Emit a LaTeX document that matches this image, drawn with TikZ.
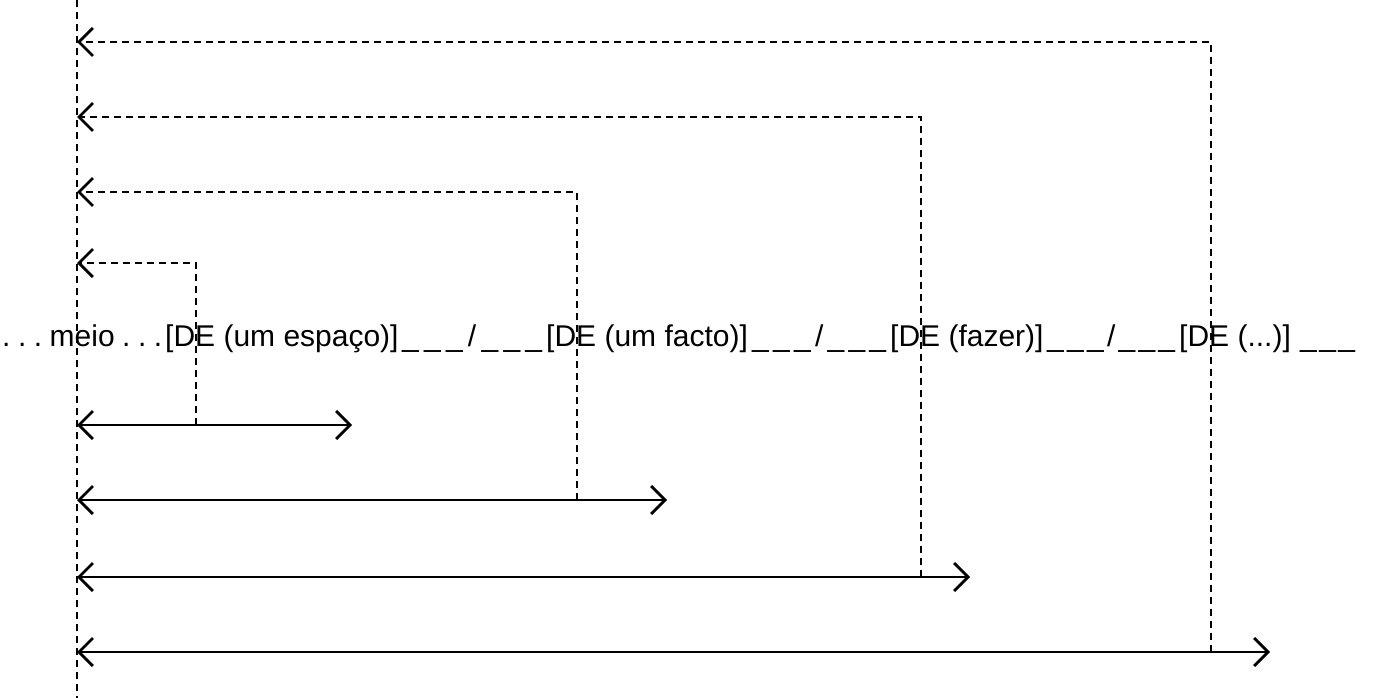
\documentclass[tikz,border=0pt]{standalone}
\usepackage{fontspec}
\setmainfont{Liberation Sans}
\usetikzlibrary{arrows.meta}
\newcommand{\sepfill}[1]{\hbox to #1{\_\hfill\_\hfill\_\hfill/\hfill\_\hfill\_\hfill\_}}
\begin{document}
\begin{tikzpicture}[x=1pt,y=-1pt,
  guide/.style={line width=2.4pt, dash pattern=on 7pt off 5pt},
  barb/.tip={Straight Barb[length=14pt,width=28pt,line width=2.8pt]},
  back/.style={guide, -barb},
  span/.style={line width=2pt, barb-barb},
  lbl/.style={font=\fontsize{30}{36}\selectfont, inner sep=0pt}]
\useasboundingbox (0,0) rectangle (1391,698);
% left vertical guide
\coordinate (gtop) at (77,0);
\coordinate (gbot) at (77,698);
\draw[guide] (gtop) -- (gbot);
% text line
\node[lbl, anchor=base west] (meio) at (2,346) {\hbox to 160pt{.\hfill.\hfill.\hfill meio\hfill.\hfill.\hfill.}};
\node[lbl, anchor=base west] (de1) at (165,346) {[DE (um espaço)]};
\node[lbl, anchor=base west] (s1) at (402,346) {\sepfill{140pt}};
\node[lbl, anchor=base west] (de2) at (546,346) {[DE (um facto)]};
\node[lbl, anchor=base west] (s2) at (752,346) {\sepfill{134pt}};
\node[lbl, anchor=base west] (de3) at (890,346) {[DE (fazer)]};
\node[lbl, anchor=base west] (s3) at (1047,346) {\sepfill{128pt}};
\node[lbl, anchor=base west] (de4) at (1179,346) {[DE (...)]};
\node[lbl, anchor=base west] (s4) at (1300,346) {\hbox to 55pt{\_\hfill\_\hfill\_}};
% arrow end points
\coordinate (t1) at (77,263);
\coordinate (t2) at (77,192);
\coordinate (t3) at (77,117);
\coordinate (t4) at (77,42);
\coordinate (v1) at (196,425);
\coordinate (v2) at (577,500);
\coordinate (v3) at (921,577);
\coordinate (v4) at (1211,652);
\coordinate (l1) at (77,425);
\coordinate (l2) at (77,500);
\coordinate (l3) at (77,577);
\coordinate (l4) at (77,652);
\coordinate (r1) at (352,425);
\coordinate (r2) at (667,500);
\coordinate (r3) at (970,577);
\coordinate (r4) at (1270,652);
% dashed return arrows
\draw[back] (v1) |- (t1);
\draw[back] (v2) |- (t2);
\draw[back] (v3) |- (t3);
\draw[back] (v4) |- (t4);
% solid span arrows
\draw[span] (l1) -- (r1);
\draw[span] (l2) -- (r2);
\draw[span] (l3) -- (r3);
\draw[span] (l4) -- (r4);
\end{tikzpicture}
\end{document}
